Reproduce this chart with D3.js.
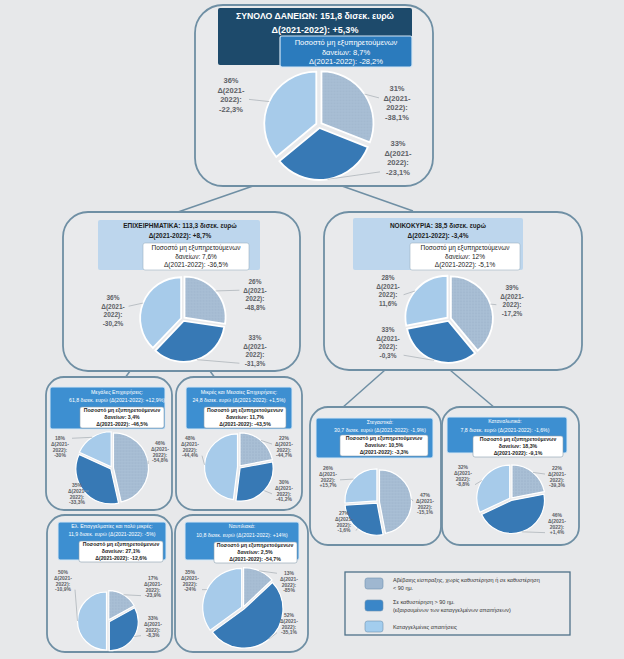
<!DOCTYPE html>
<html><head><meta charset="utf-8">
<script src="https://cdn.jsdelivr.net/npm/d3@7"></script>
<style>
html,body{margin:0;padding:0;background:#e7e8ea;}
svg{display:block;font-family:'Liberation Sans',Arial,sans-serif;}
</style></head><body>
<svg id="chart" width="624" height="659"></svg>
<script>
// ---------- DATA ----------
const segmentNames = ["ΣΥΝΟΛΟ ΔΑΝΕΙΩΝ","ΕΠΙΧΕΙΡΗΜΑΤΙΚΑ","ΝΟΙΚΟΚΥΡΙΑ","Μεγάλες Επιχειρήσεις","Μικρές και Μεσαίες Επιχειρήσεις","Στεγαστικά","Καταναλωτικά","Ελ. Επαγγελματίες και πολύ μικρές","Ναυτιλιακά"];
const amounts = ["151,8","113,3","38,5","61,8","24,8","30,7","7,8","11,9","10,8"];
const amountDeltas = ["+5,3%","+8,7%","-3,4%","+12,9%","+1,5%","-1,9%","-1,6%","-5%","+14%"];
const nplRates = ["8,7%","7,6%","12%","3,4%","11,7%","10,5%","18,3%","27,1%","2,5%"];
const nplDeltas = ["-28,2%","-36,5%","-5,1%","-46,5%","-43,5%","-3,3%","-9,1%","-12,6%","-54,7%"];
const shareUncertain = [31,26,39,46,22,47,22,17,13];
const shareOverdue   = [33,33,33,35,30,27,46,33,52];
const shareDenounced = [36,36,28,18,48,26,32,50,35];
const deltaUncertain = ["-38,1%","-48,8%","-17,2%","-54,8%","-44,7%","-15,1%","-39,3%","-23,9%","-85%"];
const deltaOverdue   = ["-23,1%","-31,3%","-0,3%","-33,3%","-41,2%","-1,6%","+1,4%","-8,3%","-35,1%"];
const deltaDenounced = ["-22,3%","-30,2%","11,6%","-30%","-44,4%","+15,7%","-8,8%","-10,9%","-24%"];
const legendLabels = [
  ["Αβέβαιης είσπραξης, χωρίς καθυστέρηση ή σε καθυστέρηση","< 90 ημ."],
  ["Σε καθυστέρηση > 90 ημ.","(εξαιρουμένων των καταγγελμένων απαιτήσεων)"],
  ["Καταγγελμένες απαιτήσεις"]
];

// ---------- LAYOUT ----------
const layout = [
 {box:[195,5,238,181,28], hdr:[218,8,194,57], hdrFill:"#1d4a6b", hdrStroke:"none", tx:315, ty:[19,33], tfs:9, tcol:"#fff", tw:[158,92],
  inner:[280,36,132,31], inFill:"#2b7bbd", inStroke:"#d4e6f5", inCol:"#fff", ix:346, iy:[45,54.5,64], ifs:7.5,
  pie:[319,125,52], lfs:7.5, lh:9.5, off:3, labs:[[397,91],[398,146],[231,83]]},
 {box:[63,212,237,159,25], hdr:[98,220,162,50], hdrFill:"#bdd6ed", hdrStroke:"none", tx:180, ty:[228,238], tfs:6.5, tcol:"#1c1c1c", tw:[135,70],
  inner:[143,243,106,27], inFill:"#fff", inStroke:"#9fb3c2", inCol:"#222", ix:196, iy:[250,258.5,267], ifs:6.5,
  pie:[183,319,41], lfs:6.5, lh:8.5, off:2, labs:[[255,284],[255,340],[113,300]]},
 {box:[324,212,258,158,25], hdr:[353,218,170,52], hdrFill:"#bdd6ed", hdrStroke:"none", tx:438, ty:[228,238], tfs:6.5, tcol:"#1c1c1c", tw:[100,70],
  inner:[410,243,110,27], inFill:"#fff", inStroke:"#9fb3c2", inCol:"#222", ix:465, iy:[250,258.5,267], ifs:6.5,
  pie:[449,319,42], lfs:6.5, lh:8.5, off:2, labs:[[512,290],[388,332],[388,280]]},
 {box:[46,377,126,133,18], hdr:[50,387,115,42], hdrFill:"#3d8fd1", hdrStroke:"#d6e7f5", tx:117, ty:[394,402], tfs:5.2, tcol:"#fff", tw:[100,108],
  inner:[80,407,84,21], inFill:"#fff", inStroke:"#8aa0b0", inCol:"#222", ix:122, iy:[412,419,426], ifs:5.2,
  pie:[112,468,35], lfs:5, lh:5.8, off:1.5, labs:[[160,445],[77,487],[60,440]]},
 {box:[176,377,126,133,18], hdr:[186,387,106,42], hdrFill:"#3d8fd1", hdrStroke:"#d6e7f5", tx:239, ty:[394,402], tfs:5.2, tcol:"#fff", tw:[100,100],
  inner:[204,407,82,21], inFill:"#fff", inStroke:"#8aa0b0", inCol:"#222", ix:245, iy:[412,419,426], ifs:5.2,
  pie:[239,467,33], lfs:5, lh:5.8, off:1.5, labs:[[284,440],[284,484],[190,440]]},
 {box:[310,407,131,138,18], hdr:[316,418,117,40], hdrFill:"#3d8fd1", hdrStroke:"#d6e7f5", tx:380, ty:[424,432], tfs:5.2, tcol:"#fff", tw:[100,100],
  inner:[340,435,88,21], inFill:"#fff", inStroke:"#8aa0b0", inCol:"#222", ix:384, iy:[440,447,454], ifs:5.2,
  pie:[378,502,32], lfs:5, lh:5.8, off:1.5, labs:[[425,497],[344,515],[328,470]]},
 {box:[442,407,137,138,18], hdr:[447,417,120,36], hdrFill:"#3d8fd1", hdrStroke:"#d6e7f5", tx:505, ty:[423,432], tfs:5.2, tcol:"#fff", tw:[100,100],
  inner:[473,436,90,21], inFill:"#fff", inStroke:"#8aa0b0", inCol:"#222", ix:518, iy:[441,448,455], ifs:5.2,
  pie:[511,499,33], lfs:5, lh:5.8, off:1.5, labs:[[557,470],[557,517],[463,469]]},
 {box:[47,515,125,137,18], hdr:[58,522,108,38], hdrFill:"#3d8fd1", hdrStroke:"#d6e7f5", tx:112, ty:[528,536], tfs:5.2, tcol:"#fff", tw:[100,100],
  inner:[79,541,84,21], inFill:"#fff", inStroke:"#8aa0b0", inCol:"#222", ix:121, iy:[546,553,560], ifs:5.2,
  pie:[108,621,29], lfs:5, lh:5.8, off:1.5, labs:[[153,580],[153,620],[63,574]]},
 {box:[175,515,133,137,18], hdr:[185,522,114,38], hdrFill:"#3d8fd1", hdrStroke:"#d6e7f5", tx:242, ty:[528,537], tfs:5.2, tcol:"#fff", tw:[100,104],
  inner:[214,542,83,21], inFill:"#fff", inStroke:"#8aa0b0", inCol:"#222", ix:255, iy:[547,554,561], ifs:5.2,
  pie:[243,608,39], lfs:5, lh:5.8, off:1.5, labs:[[289,575],[289,617],[190,574]]}
];

const svg = d3.select("#chart");
svg.append("rect").attr("width",624).attr("height",659).attr("fill","#e7e8ea");

const defs = svg.append("defs");
const pat = defs.append("pattern").attr("id","dots").attr("patternUnits","userSpaceOnUse").attr("width",3).attr("height",3);
pat.append("rect").attr("width",3).attr("height",3).attr("fill","#a9bfd5");
pat.append("circle").attr("cx",1).attr("cy",1).attr("r",0.6).attr("fill","#8ea7bf");
const fills = ["url(#dots)","#3779b5","#a7cbea"];

function fit(sel, maxW){
  sel.each(function(){
    const w = this.getComputedTextLength();
    if (w > maxW) d3.select(this).attr("textLength", maxW).attr("lengthAdjust","spacingAndGlyphs");
  });
}

// connectors
const conn = [[253,186,178,212],[342,186,413,211],[130,371,125,378],[210,371,215,378],[385,370,342,408],[450,370,495,408]];
svg.append("g").selectAll("line").data(conn).join("line")
  .attr("x1",d=>d[0]).attr("y1",d=>d[1]).attr("x2",d=>d[2]).attr("y2",d=>d[3])
  .attr("stroke","#6f8fa4").attr("stroke-width",1.5);

layout.forEach((L, i) => {
  const g = svg.append("g");
  const [bx,by,bw,bh,br] = L.box;
  g.append("rect").attr("x",bx).attr("y",by).attr("width",bw).attr("height",bh).attr("rx",br)
    .attr("fill","#e9eaec").attr("stroke","#6f8fa4").attr("stroke-width",1.8);

  const [hx,hy,hw,hh] = L.hdr;
  g.append("rect").attr("x",hx).attr("y",hy).attr("width",hw).attr("height",hh).attr("rx",2)
    .attr("fill",L.hdrFill).attr("stroke",L.hdrStroke).attr("stroke-width",1);

  const titleLines = i < 3
    ? [`${segmentNames[i]}: ${amounts[i]} δισεκ. ευρώ`, `Δ(2021-2022): ${amountDeltas[i]}`]
    : [`${segmentNames[i]}:`, `${amounts[i]} δισεκ. ευρώ (Δ(2021-2022): ${amountDeltas[i]})`];
  titleLines.forEach((t,k) => {
    g.append("text").attr("x",L.tx).attr("y",L.ty[k]).attr("text-anchor","middle")
      .attr("font-size",L.tfs).attr("font-weight", i<3 ? "bold" : "normal").attr("fill",L.tcol).text(t)
      .call(fit, L.tw[k]);
  });

  const [ix,iy,iw,ih] = L.inner;
  g.append("rect").attr("x",ix).attr("y",iy).attr("width",iw).attr("height",ih).attr("rx",2)
    .attr("fill",L.inFill).attr("stroke",L.inStroke).attr("stroke-width", i===0?1.2:0.6);
  const innerLines = ["Ποσοστό μη εξυπηρετούμενων", `δανείων: ${nplRates[i]}`, `Δ(2021-2022): ${nplDeltas[i]}`];
  innerLines.forEach((t,k) => {
    g.append("text").attr("x",L.ix).attr("y",L.iy[k]).attr("text-anchor","middle")
      .attr("font-size",L.ifs).attr("font-weight", i<3 ? "normal" : "bold").attr("fill",L.inCol).text(t)
      .call(fit, iw-6);
  });

  // pie
  const [cx,cy,r] = L.pie;
  const vals = [
    {v:shareUncertain[i], d:deltaUncertain[i]},
    {v:shareOverdue[i], d:deltaOverdue[i]},
    {v:shareDenounced[i], d:deltaDenounced[i]}
  ];
  const arcs = d3.pie().sort(null).value(d=>d.v)(vals);
  const arc = d3.arc().innerRadius(0).outerRadius(r);
  const pg = g.append("g").attr("transform",`translate(${cx},${cy})`);
  pg.selectAll("path").data(arcs).join("path")
    .attr("d",arc)
    .attr("transform",d=>{const a=(d.startAngle+d.endAngle)/2; return `translate(${Math.sin(a)*L.off},${-Math.cos(a)*L.off})`;})
    .attr("fill",(d,k)=>fills[k]).attr("stroke","#fff").attr("stroke-width", i<3?1.8:1.2);

  // labels + leaders
  arcs.forEach((d,k) => {
    const [lx,ly] = L.labs[k];
    const lines = [`${d.data.v}%`, "Δ(2021-", "2022):", d.data.d];
    const a = (d.startAngle+d.endAngle)/2;
    const sx = cx + Math.sin(a)*(r+L.off), sy = cy - Math.cos(a)*(r+L.off);
    const right = lx > cx;
    const ys = lines.map((_,m)=>ly + m*L.lh);
    let best = ys[0]; ys.forEach(y=>{ if (Math.abs(y-3-sy) < Math.abs(best-3-sy)) best = y; });
    const ex = lx + (right ? -1 : 1) * L.lfs*2.4;
    g.append("line").attr("x1",sx).attr("y1",sy).attr("x2",ex).attr("y2",best - L.lfs*0.35)
      .attr("stroke","#9aa3aa").attr("stroke-width",0.6);
    lines.forEach((t,m) => {
      g.append("text").attr("x",lx).attr("y",ys[m]).attr("text-anchor","middle")
        .attr("font-size",L.lfs).attr("font-weight","bold").attr("fill","#5d6166").text(t);
    });
  });
});

// legend
const lg = svg.append("g");
lg.append("rect").attr("x",345).attr("y",572).attr("width",225).attr("height",63)
  .attr("fill","#e9eaec").attr("stroke","#4f7189").attr("stroke-width",1.3);
const swY = [578,600,621];
const swFill = ["#9fb7d0","#3a86c8","#a3cdee"];
legendLabels.forEach((lines,k) => {
  lg.append("rect").attr("x",365).attr("y",swY[k]).attr("width",18).attr("height",11).attr("rx",2.5)
    .attr("fill",swFill[k]).attr("stroke","#6f92b0").attr("stroke-width",0.6);
  lines.forEach((t,m) => {
    lg.append("text").attr("x",393).attr("y",swY[k]+ (lines.length>1?4:7.5) + m*7.5)
      .attr("font-size",5.5).attr("fill","#333").text(t);
  });
});
</script>
</body></html>
